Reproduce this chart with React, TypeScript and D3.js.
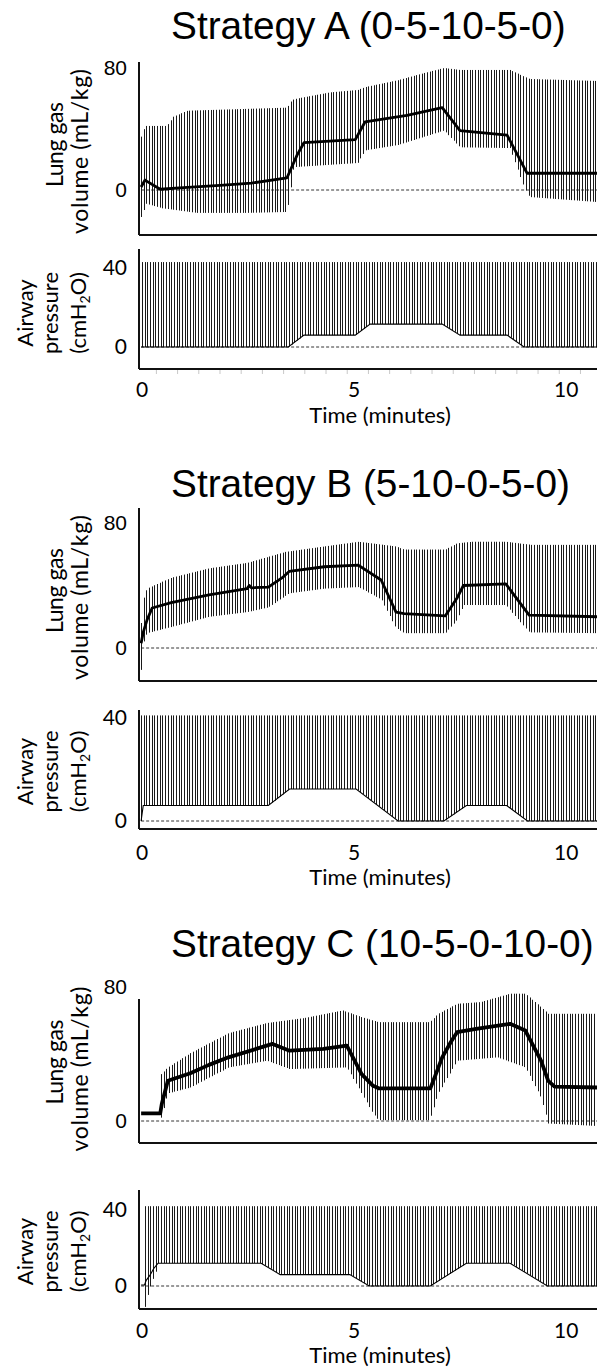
import React from 'react';
import * as d3 from 'd3';

type KP = [number, number][];

// ---------- shared axis data ----------
const T_DOMAIN: [number, number] = [-0.05, 10.75];
const X_TICKS = [0, 5, 10];
const VOL_TICKS = [0, 80];
const PRES_TICKS = [0, 40];
const BREATH_PERIOD = 0.063; // minutes between drawn breaths
const TITLES = ['Strategy A (0-5-10-5-0)', 'Strategy B (5-10-0-5-0)', 'Strategy C (10-5-0-10-0)'];

// ---------- Strategy A ----------
const volA_mean: KP = [[0, 2], [0.09, 6.5], [0.45, 0.5], [1.0, 1.5], [1.86, 3], [2.6, 4.5], [3.44, 8], [3.68, 23], [3.84, 31], [5.05, 33], [5.28, 44.6], [6.27, 49], [7.1, 54], [7.52, 39], [8.63, 36], [9.1, 11], [10.75, 11]];
const volA_upper: KP = [[0, 35], [0.09, 42], [0.6, 42], [0.75, 48], [1.08, 52], [3.44, 54], [3.55, 59], [3.68, 60], [4.45, 64], [5.1, 65.6], [5.28, 67.5], [6.05, 72], [6.67, 76.7], [7.14, 80], [7.52, 78.7], [8.7, 78.7], [9.15, 72.8], [10.75, 71.5]];
const volA_lower: KP = [[0, -17.7], [0.12, -9], [0.5, -12], [1.3, -15], [2.5, -15], [3.44, -14.4], [3.6, 15], [5.1, 17.7], [5.28, 26], [6.05, 29.5], [7.14, 39], [7.52, 28], [8.7, 27.5], [9.03, 2], [9.15, -4.6], [10.75, -7.9]];
const presA_peep: KP = [[0, 0], [3.47, 0], [3.84, 6], [5.05, 6], [5.4, 11.6], [7.1, 11.6], [7.52, 6], [8.63, 6], [9.03, 0], [10.75, 0]];
const presA_trough: KP = [];
const presA_peak = 43;
const volA_start = 0.0;
const presA_start = 0.02;

// ---------- Strategy B ----------
const volB_mean: KP = [[0, 3], [0.05, 10], [0.14, 18], [0.26, 25.6], [0.71, 29], [1.6, 34], [2.5, 38], [2.55, 40], [2.6, 38.5], [3.0, 39], [3.33, 45], [3.49, 49], [4.32, 52], [5.12, 53], [5.66, 43.5], [6.01, 23], [6.2, 22], [7.17, 20.5], [7.45, 32], [7.6, 40], [8.6, 41], [9.15, 21], [10.75, 20]];
const volB_upper: KP = [[0, 16], [0.06, 32], [0.14, 38], [0.3, 40], [0.71, 45], [1.6, 51], [2.5, 54.5], [3.4, 61.5], [4.32, 65], [5.12, 68], [6.0, 65], [6.2, 63], [7.17, 63], [7.45, 67], [7.8, 68], [8.6, 68], [9.2, 66], [10.75, 66]];
const volB_lower: KP = [[0, -14], [0.06, 4], [0.14, 9.5], [0.71, 13.5], [1.6, 20], [2.5, 23], [3.0, 26], [3.49, 35], [4.32, 38], [5.12, 39], [5.66, 31], [6.0, 13], [6.2, 9.5], [7.17, 9.5], [7.45, 18], [7.6, 27.5], [8.6, 27.5], [9.15, 10], [10.75, 9.5]];
const presB_peep: KP = [[0, 0], [0.05, 6], [3.0, 6], [3.5, 12.4], [5.07, 12.4], [6.06, 0], [7.14, 0], [7.67, 6], [8.62, 6], [9.11, 0], [10.75, 0]];
const presB_trough: KP = [];
const presB_peak = 41;
const volB_start = 0.0;
const presB_start = 0.0;

// ---------- Strategy C ----------
const volC_mean: KP = [[0, 4.5], [0.45, 4.5], [0.49, 10.5], [0.63, 24], [1.16, 28.5], [1.6, 33.5], [2.06, 38], [2.96, 45], [3.1, 46], [3.5, 42], [4.3, 43], [4.85, 45], [5.2, 28], [5.47, 21], [5.6, 19.5], [6.82, 19.5], [6.95, 28], [7.1, 38], [7.3, 47], [7.45, 53], [7.9, 55], [8.7, 58], [9.06, 54], [9.43, 36], [9.6, 24], [9.75, 20.5], [10.75, 20]];
const volC_upper: KP = [[0.47, 28], [0.63, 32], [1.16, 40.5], [2.06, 52.5], [2.96, 58.5], [3.85, 61.5], [4.75, 66], [5.2, 62], [5.6, 59], [6.8, 59], [7.0, 64], [7.45, 70], [8.0, 71], [8.7, 76], [9.06, 76], [9.43, 68], [9.6, 64], [10.75, 64]];
const volC_lower: KP = [[0.47, 2], [0.63, 16.5], [1.16, 20], [2.06, 32], [2.96, 36], [3.5, 31], [4.85, 32], [5.2, 16.5], [5.47, 4.5], [5.6, 0.5], [6.8, 0.5], [7.0, 16.5], [7.45, 36], [8.4, 38], [9.06, 32], [9.43, 14], [9.6, -1.5], [10.75, -3]];
const presC_peep: KP = [[0, 0.5], [0.08, 0.5], [0.12, 3], [0.21, 5.7], [0.3, 9.3], [0.4, 12], [2.83, 12], [3.28, 6], [4.92, 6], [5.38, 0], [6.82, 0], [7.67, 12], [8.7, 12], [9.58, 0], [10.75, 0]];
const presC_trough: KP = [[0.09, -11], [0.16, -4], [0.25, 2], [0.35, 8]];
const presC_peak = 42;
const volC_start = 0.47;
const presC_start = 0.09;

// ---------- layout (pixels) ----------
const LAYOUT = [
  { title: 39, vol: { top: 62, bottom: 235, y0: 190, yMax: 68 }, pres: { top: 249, bottom: 369, y0: 347, yMax: 268 }, xLab: 397, timeLab: 423, minor: true },
  { title: 497, vol: { top: 508, bottom: 681, y0: 648, yMax: 523 }, pres: { top: 710, bottom: 829, y0: 821, yMax: 718 }, xLab: 860, timeLab: 885, minor: false },
  { title: 957, vol: { top: 999, bottom: 1143, y0: 1121, yMax: 987 }, pres: { top: 1190, bottom: 1309, y0: 1286, yMax: 1210 }, xLab: 1338, timeLab: 1363, minor: false },
];

const PANELS = [
  { vm: volA_mean, vu: volA_upper, vl: volA_lower, vs: volA_start, pp: presA_peep, pt: presA_trough, pk: presA_peak, ps: presA_start },
  { vm: volB_mean, vu: volB_upper, vl: volB_lower, vs: volB_start, pp: presB_peep, pt: presB_trough, pk: presB_peak, ps: presB_start },
  { vm: volC_mean, vu: volC_upper, vl: volC_lower, vs: volC_start, pp: presC_peep, pt: presC_trough, pk: presC_peak, ps: presC_start },
];

const W = 597;
const H = 1370;
const AXIS_X = 139;
const ARIAL = '"Liberation Sans", Arial, sans-serif';
const CAL = 'Lato, "Open Sans", sans-serif';

const bis = d3.bisector((d: [number, number]) => d[0]).right;
function interp(k: KP, t: number): number {
  if (t <= k[0][0]) return k[0][1];
  if (t >= k[k.length - 1][0]) return k[k.length - 1][1];
  const i = bis(k, t);
  const a = k[i - 1];
  const b = k[i];
  return d3.interpolateNumber(a[1], b[1])((t - a[0]) / (b[0] - a[0]));
}

const x = d3.scaleLinear().domain(T_DOMAIN).range([AXIS_X, W]);
const snap = (v: number) => Math.round(v) + 0.5;

function Panel({ idx }: { idx: number }) {
  const L = LAYOUT[idx];
  const P = PANELS[idx];
  const yV = d3.scaleLinear().domain([VOL_TICKS[0], VOL_TICKS[1]]).range([L.vol.y0, L.vol.yMax]);
  const yP = d3.scaleLinear().domain([PRES_TICKS[0], PRES_TICKS[1]]).range([L.pres.y0, L.pres.yMax]);

  const volBreaths = d3.range(P.vs, T_DOMAIN[1], BREATH_PERIOD);
  const volPath = volBreaths
    .map((t) => `M${snap(x(t))},${yV(interp(P.vl, t)).toFixed(2)}V${yV(interp(P.vu, t)).toFixed(2)}`)
    .join('');
  const presBreaths = d3.range(P.ps, T_DOMAIN[1], BREATH_PERIOD);
  const presPath = presBreaths
    .map((t) => {
      let lo = interp(P.pp, t);
      if (P.pt.length && t <= P.pt[P.pt.length - 1][0]) lo = Math.min(lo, interp(P.pt, t));
      return `M${snap(x(t))},${yP(lo).toFixed(2)}V${yP(P.pk).toFixed(2)}`;
    })
    .join('');

  const meanPath = d3.line<[number, number]>().x((d) => x(d[0])).y((d) => yV(d[1]))(P.vm) || '';
  const peepPath = d3.line<[number, number]>().x((d) => x(d[0])).y((d) => yP(d[1]))(P.pp) || '';

  const volCy = (L.vol.top + L.vol.bottom) / 2 - (idx === 2 ? 5 : 0);
  const presCy = (L.pres.top + L.pres.bottom) / 2 + (idx === 0 ? 4 : 2);
  const minorTicks = d3.range(0.36, T_DOMAIN[1], 0.5);

  return (
    <g>
      <text x={171} y={L.title} fontFamily={ARIAL} fontSize={38.8} fill="#000">{TITLES[idx]}</text>

      {/* volume plot */}
      <line x1={x(0)} x2={W} y1={yV(0)} y2={yV(0)} stroke="#000" strokeWidth={0.8} strokeDasharray="3,2" />
      <path d={volPath} stroke="#1a1a1a" strokeWidth={1} fill="none" />
      <path d={meanPath} stroke="#000" strokeWidth={idx === 2 ? 3.8 : 2.8} fill="none" strokeLinejoin="round" />
      <line x1={AXIS_X} x2={AXIS_X} y1={L.vol.top} y2={L.vol.bottom} stroke="#111" strokeWidth={2} />
      <line x1={AXIS_X} x2={W} y1={L.vol.bottom} y2={L.vol.bottom} stroke="#111" strokeWidth={2} />
      {VOL_TICKS.map((v) => (
        <text key={v} x={127} y={yV(v)} dy="0.35em" textAnchor="end" fontFamily={ARIAL} fontSize={21}>{v}</text>
      ))}
      <text transform={`translate(63,${volCy - 4}) rotate(-90)`} textAnchor="middle" fontFamily={CAL} fontSize={23} textLength={85}>Lung gas</text>
      <text transform={`translate(88,${volCy + 3}) rotate(-90)`} textAnchor="middle" fontFamily={CAL} fontSize={23} textLength={165}>volume (mL/kg)</text>

      {/* pressure plot */}
      <line x1={x(0)} x2={W} y1={yP(0)} y2={yP(0)} stroke="#000" strokeWidth={0.8} strokeDasharray="3,2" />
      <path d={presPath} stroke="#1a1a1a" strokeWidth={1} fill="none" />
      <path d={peepPath} stroke="#000" strokeWidth={1.1} fill="none" />
      <line x1={AXIS_X} x2={AXIS_X} y1={L.pres.top} y2={L.pres.bottom} stroke="#111" strokeWidth={2} />
      <line x1={AXIS_X} x2={W} y1={L.pres.bottom} y2={L.pres.bottom} stroke="#111" strokeWidth={2} />
      {L.minor && minorTicks.map((t) => (
        <line key={t} x1={x(t)} x2={x(t)} y1={L.pres.bottom + 1} y2={L.pres.bottom + 5} stroke="#c8c8c8" strokeWidth={1} />
      ))}
      {PRES_TICKS.map((v) => (
        <text key={v} x={127} y={yP(v)} dy="0.35em" textAnchor="end" fontFamily={CAL} fontSize={21}>{v}</text>
      ))}
      <text transform={`translate(33,${presCy}) rotate(-90)`} textAnchor="middle" fontFamily={CAL} fontSize={22}>Airway</text>
      <text transform={`translate(58,${presCy}) rotate(-90)`} textAnchor="middle" fontFamily={CAL} fontSize={22}>pressure</text>
      <text transform={`translate(86,${presCy}) rotate(-90)`} textAnchor="middle" fontFamily={CAL} fontSize={22}>
        <tspan>(cmH</tspan>
        <tspan fontSize={14} dy={4}>2</tspan>
        <tspan dy={-4}>O)</tspan>
      </text>

      {/* x axis labels */}
      {X_TICKS.map((t) => (
        <text key={t} x={x(t) + 1} y={L.xLab} textAnchor="middle" fontFamily={CAL} fontSize={21}>{t}</text>
      ))}
      <text x={380} y={L.timeLab} textAnchor="middle" fontFamily={CAL} fontSize={22}>Time (minutes)</text>
    </g>
  );
}

export default function App() {
  return (
    <svg width={W} height={H} viewBox={`0 0 ${W} ${H}`} style={{ position: 'absolute', left: 0, top: 0, background: '#fff' }}>
      <rect width={W} height={H} fill="#fff" />
      {[0, 1, 2].map((i) => (
        <Panel key={i} idx={i} />
      ))}
    </svg>
  );
}
